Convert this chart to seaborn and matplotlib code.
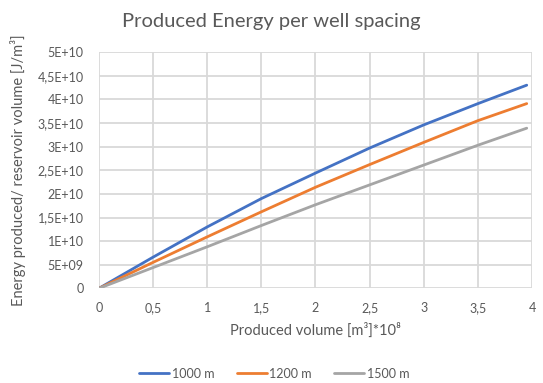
import matplotlib
matplotlib.use("Agg")
import matplotlib.pyplot as plt
import seaborn as sns
import pandas as pd

# Produced volume (x 1e8 m3) at the sampled points
volume = [0.0, 0.5, 1.0, 1.5, 2.0, 2.5, 3.0, 3.5, 3.95]

# Produced energy per reservoir volume [J/m3] for each well spacing
energy_1000 = [0.0, 0.66e10, 1.30e10, 1.90e10, 2.44e10, 2.97e10, 3.46e10, 3.91e10, 4.30e10]
energy_1200 = [0.0, 0.55e10, 1.09e10, 1.62e10, 2.14e10, 2.62e10, 3.09e10, 3.55e10, 3.91e10]
energy_1500 = [0.0, 0.44e10, 0.88e10, 1.33e10, 1.77e10, 2.19e10, 2.61e10, 3.03e10, 3.39e10]

spacings = ["1000 m", "1200 m", "1500 m"]
colors = ["#4472C4", "#ED7D31", "#A5A5A5"]

x_ticks = [0, 0.5, 1, 1.5, 2, 2.5, 3, 3.5, 4]
x_tick_labels = ["0", "0,5", "1", "1,5", "2", "2,5", "3", "3,5", "4"]
y_ticks = [0, 0.5e10, 1e10, 1.5e10, 2e10, 2.5e10, 3e10, 3.5e10, 4e10, 4.5e10, 5e10]
y_tick_labels = ["0", "5E+09", "1E+10", "1,5E+10", "2E+10", "2,5E+10",
                 "3E+10", "3,5E+10", "4E+10", "4,5E+10", "5E+10"]

frames = []
for name, vals in zip(spacings, [energy_1000, energy_1200, energy_1500]):
    frames.append(pd.DataFrame({"volume": volume, "energy": vals, "spacing": name}))
df = pd.concat(frames, ignore_index=True)

sns.set_style("white")
plt.rcParams["font.family"] = ["Lato", "DejaVu Sans"]

text_color = "#595959"
grid_color = "#D9D9D9"

fig = plt.figure(figsize=(5.43, 3.83), dpi=100)
ax = fig.add_axes([0.182, 0.247, 0.798, 0.617])

sns.lineplot(data=df, x="volume", y="energy", hue="spacing",
             palette=dict(zip(spacings, colors)), linewidth=2,
             ax=ax, legend=True)

ax.set_xlim(0, 4)
ax.set_ylim(0, 5e10)
ax.set_xticks(x_ticks)
ax.set_xticklabels(x_tick_labels)
ax.set_yticks(y_ticks)
ax.set_yticklabels(y_tick_labels)
ax.tick_params(axis="both", labelsize=9, colors=text_color, length=0)
ax.tick_params(axis="y", pad=11)
ax.tick_params(axis="x", pad=10)

ax.grid(True, color=grid_color, linewidth=1.3)
ax.set_axisbelow(True)
for side in ["top", "right", "left", "bottom"]:
    ax.spines[side].set_visible(False)

ax.set_xlabel("Produced volume [m³]*10⁸", fontsize=10.5, color=text_color, labelpad=6)
ax.set_ylabel("Energy produced/ reservoir volume [J/m³]", fontsize=10.5,
              color=text_color, labelpad=8)

fig.text(0.5, 0.945, "Produced Energy per well spacing", ha="center", va="center",
         fontsize=14.5, color=text_color)

handles, labels = ax.get_legend_handles_labels()
ax.legend(handles, labels, loc="center", bbox_to_anchor=(0.505, 0.024),
          bbox_transform=fig.transFigure, ncol=3, frameon=False,
          fontsize=9, labelcolor=text_color, handlelength=2.4,
          handletextpad=0.2, columnspacing=1.8)

fig.savefig("out.png", dpi=100)
